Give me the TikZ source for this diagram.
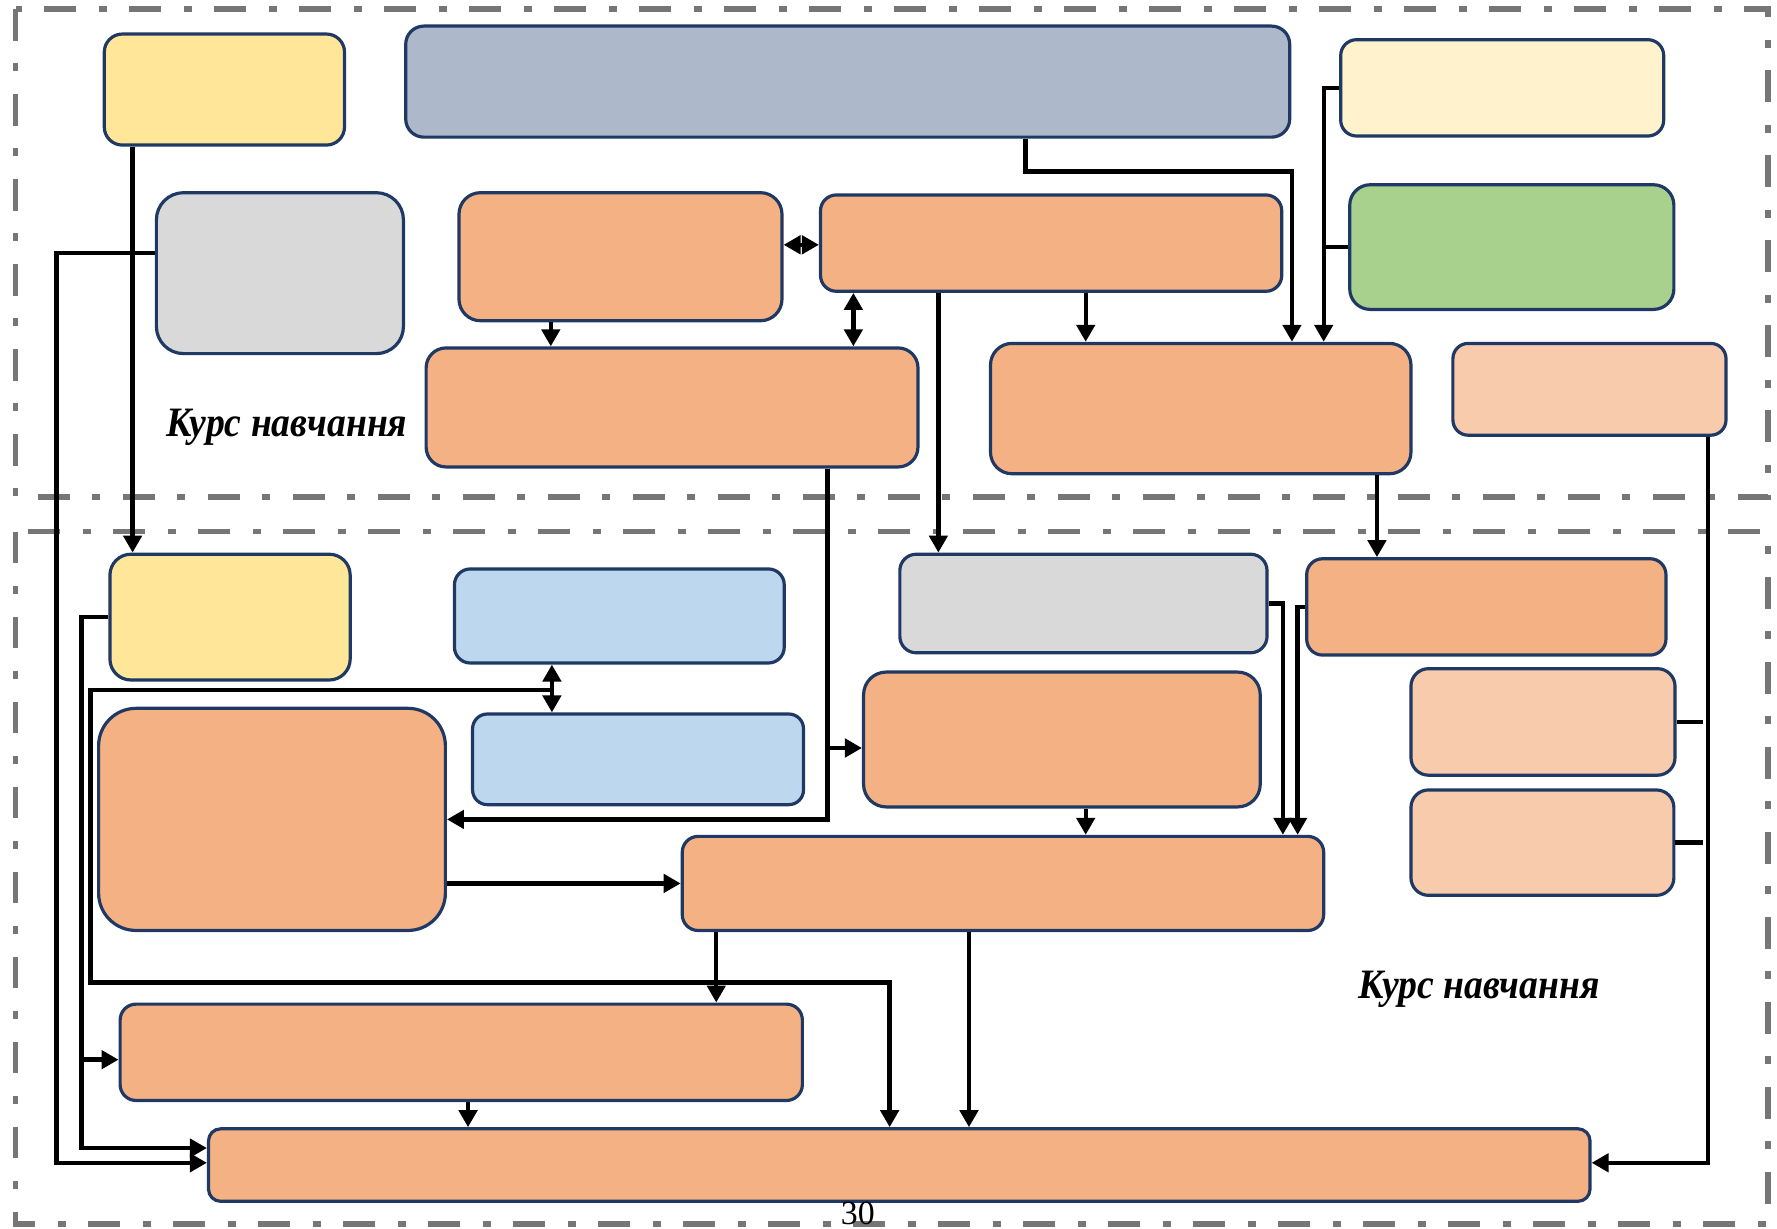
\documentclass[tikz,border=0pt]{standalone}
\usepackage{fontspec}
\setmainfont{Liberation Serif}
\usetikzlibrary{arrows.meta,calc}

\definecolor{boxline}{HTML}{1F3864}
\definecolor{frmgray}{HTML}{767676}
\definecolor{ylw}{HTML}{FFE699}
\definecolor{slate}{HTML}{ADB9CA}
\definecolor{cream}{HTML}{FFF2CC}
\definecolor{greybox}{HTML}{D9D9D9}
\definecolor{grn}{HTML}{A9D18E}
\definecolor{org}{HTML}{F4B183}
\definecolor{peach}{HTML}{F8CBAD}
\definecolor{lblue}{HTML}{BDD7EE}

\begin{document}
\begin{tikzpicture}[
    blk/.style={draw=boxline, line width=0.8pt, inner sep=0pt},
    conn/.style={line width=1.1pt, -{Triangle[length=1.5mm,width=1.6mm]}},
    dconn/.style={line width=1.1pt, {Triangle[length=1.5mm,width=1.6mm]}-{Triangle[length=1.5mm,width=1.6mm]}},
    link/.style={line width=1.1pt},
    frame/.style={draw=frmgray, line width=1.3pt, dash pattern=on 2.8mm off 2mm on 0.7mm off 2mm},
    course/.style={font=\fontsize{10.5}{12}\selectfont\bfseries\itshape}
]
    \useasboundingbox (0,0) rectangle (15.68,-10.84);

    % Frames
    \draw[frame] (0.14,-0.08) rectangle (15.60,-4.385);
    \draw[frame] (0.14,-4.69) rectangle (15.60,-10.80);

    % Top part
    \node[blk, fill=ylw, minimum width=2.12cm, minimum height=0.98cm, rounded corners=1.6mm] (ylwTop) at (1.98,-0.79) {};
    \node[blk, fill=slate, minimum width=7.80cm, minimum height=0.98cm, rounded corners=1.6mm] (slate) at (7.48,-0.72) {};
    \node[blk, fill=cream, minimum width=2.85cm, minimum height=0.85cm, rounded corners=1.4mm] (cream) at (13.255,-0.775) {};
    \node[blk, fill=greybox, minimum width=2.18cm, minimum height=1.42cm, rounded corners=2.4mm] (greyTop) at (2.47,-2.41) {};
    \node[blk, fill=grn, minimum width=2.86cm, minimum height=1.10cm, rounded corners=1.8mm] (green) at (13.34,-2.18) {};
    \node[blk, fill=org, minimum width=2.85cm, minimum height=1.13cm, rounded corners=1.9mm] (orA) at (5.475,-2.265) {};
    \node[blk, fill=org, minimum width=4.07cm, minimum height=0.85cm, rounded corners=1.4mm] (orB) at (9.275,-2.145) {};
    \node[blk, fill=org, minimum width=4.34cm, minimum height=1.05cm, rounded corners=1.75mm] (orC) at (5.93,-3.595) {};
    \node[blk, fill=org, minimum width=3.71cm, minimum height=1.15cm, rounded corners=1.9mm] (orD) at (10.595,-3.605) {};
    \node[blk, fill=peach, minimum width=2.41cm, minimum height=0.81cm, rounded corners=1.35mm] (peachTop) at (14.025,-3.435) {};
    \node[course] (courseTop) at (2.53,-3.77) {\scalebox{0.9}[1]{Курс навчання}};

    % Bottom part
    \node[blk, fill=ylw, minimum width=2.12cm, minimum height=1.11cm, rounded corners=1.85mm] (ylwBot) at (2.03,-5.445) {};
    \node[blk, fill=lblue, minimum width=2.91cm, minimum height=0.83cm, rounded corners=1.4mm] (blueA) at (5.465,-5.435) {};
    \node[blk, fill=lblue, minimum width=2.92cm, minimum height=0.80cm, rounded corners=1.3mm] (blueB) at (5.63,-6.70) {};
    \node[blk, fill=org, minimum width=3.06cm, minimum height=1.96cm, rounded corners=3.3mm] (orE) at (2.40,-7.23) {};
    \node[blk, fill=greybox, minimum width=3.24cm, minimum height=0.87cm, rounded corners=1.45mm] (greyBot) at (9.56,-5.325) {};
    \node[blk, fill=org, minimum width=3.17cm, minimum height=0.85cm, rounded corners=1.4mm] (orF) at (13.115,-5.355) {};
    \node[blk, fill=org, minimum width=3.50cm, minimum height=1.19cm, rounded corners=2mm] (orG) at (9.37,-6.525) {};
    \node[blk, fill=peach, minimum width=2.33cm, minimum height=0.94cm, rounded corners=1.55mm] (peachA) at (13.615,-6.37) {};
    \node[blk, fill=peach, minimum width=2.32cm, minimum height=0.93cm, rounded corners=1.55mm] (peachB) at (13.61,-7.435) {};
    \node[blk, fill=org, minimum width=5.66cm, minimum height=0.83cm, rounded corners=1.4mm] (orH) at (8.85,-7.795) {};
    \node[blk, fill=org, minimum width=6.02cm, minimum height=0.85cm, rounded corners=1.4mm] (orI) at (4.07,-9.285) {};
    \node[blk, fill=org, minimum width=12.19cm, minimum height=0.64cm, rounded corners=1.07mm] (orJ) at (7.935,-10.28) {};
    \node[course] (courseBot) at (13.05,-8.73) {\scalebox{0.9}[1]{Курс навчання}};
    \node[font=\fontsize{8.5}{10}\selectfont] (page) at (7.57,-10.71) {30};

    % Arrows, top part
    \draw[conn] (slate.south -| 9.05,0) -- ++(0,-0.29) -| (orD.north -| 11.40,0);
    \draw[conn] (cream.west) -| (orD.north -| 11.68,0);
    \draw[link] (green.west) -- (green.west -| 11.68,0);
    \draw[dconn] (orA.east |- 0,-2.16) -- (orB.west |- 0,-2.16);
    \draw[dconn] (orB.south -| 7.53,0) -- (orC.north -| 7.53,0);
    \draw[conn] (orA.south -| 4.86,0) -- (orC.north -| 4.86,0);
    \draw[conn] (orB.south -| 9.58,0) -- (orD.north -| 9.58,0);
    \draw[conn] (orB.south -| 8.28,0) -- (greyBot.north -| 8.28,0);
    \draw[conn] (orD.south -| 12.15,0) -- (orF.north -| 12.15,0);
    \draw[conn] (ylwTop.south -| 1.17,0) -- (ylwBot.north -| 1.17,0);
    \draw[conn] (greyTop.west |- 0,-2.23) -- (0.50,-2.23) |- (orJ.west |- 0,-10.26);
    \draw[conn] (peachTop.south -| 15.07,0) |- (orJ.east |- 0,-10.26);
    \draw[link] (peachA.east) -- (peachA.east -| 15.03,0);
    \draw[link] (peachB.east) -- (peachB.east -| 15.03,0);

    % Arrows, bottom part
    \draw[conn] (orC.south -| 7.30,0) |- (orE.east);
    \draw[conn] (7.30,-6.60) -- (orG.west |- 0,-6.60);
    \draw[conn] (ylwBot.west) -- (0.72,-5.445) |- (orJ.west |- 0,-10.13);
    \draw[conn] (0.72,-9.35) -- (orI.west |- 0,-9.35);
    \draw[dconn] (blueA.south -| 4.87,0) -- (blueB.north -| 4.87,0);
    \draw[conn] (4.87,-6.09) -- (0.80,-6.09) |- (7.85,-8.67) -- (orJ.north -| 7.85,0);
    \draw[conn] (orE.east |- orH.west) -- (orH.west);
    \draw[conn] (orG.south -| 9.58,0) -- (orH.north -| 9.58,0);
    \draw[conn] (greyBot.east) -| (orH.north -| 11.32,0);
    \draw[conn] (orF.west) -| (orH.north -| 11.45,0);
    \draw[conn] (orH.south -| 6.32,0) -- (orI.north -| 6.32,0);
    \draw[conn] (orH.south -| 8.55,0) -- (orJ.north -| 8.55,0);
    \draw[conn] (orI.south -| 4.13,0) -- (orJ.north -| 4.13,0);
\end{tikzpicture}
\end{document}
